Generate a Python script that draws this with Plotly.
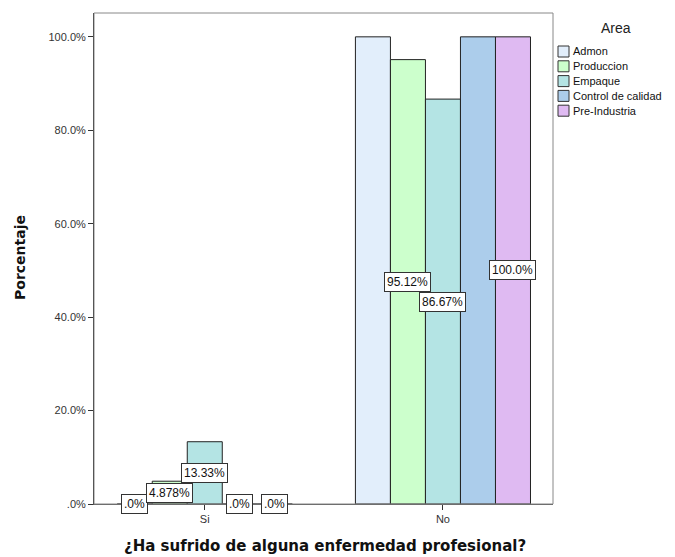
import plotly.graph_objects as go

categories = ["Si", "No"]
series_names = ["Admon", "Produccion", "Empaque", "Control de calidad", "Pre-Industria"]
si_values = [0.0, 4.878, 13.33, 0.0, 0.0]
no_values = [100.0, 95.12, 86.67, 100.0, 100.0]
label_si = [".0%", "4.878%", "13.33%", ".0%", ".0%"]
label_no = [None, "95.12%", "86.67%", None, "100.0%"]
colors = ["#E2EEFB", "#CCFFCC", "#B4E4E4", "#ACCDEB", "#DFBAF2"]
y_ticks = [0, 20, 40, 60, 80, 100]
y_ticktext = [".0%", "20.0%", "40.0%", "60.0%", "80.0%", "100.0%"]
legend_title = "Area"
x_title = "¿Ha sufrido de alguna enfermedad profesional?"
y_title = "Porcentaje"

FONT = "Liberation Sans, Arial, sans-serif"
TFONT = "DejaVu Sans, sans-serif"
OFF = 8  # default page body margin
W, H = 675 - OFF, 557 - OFF
# plot area in screen pixels: x 94..553, y 13..504
L, T = 94 - OFF, 13 - OFF
R, B = W - (553 - OFF), H - (504 - OFF)
PW, PH = W - L - R, H - T - B


def px(x):
    return (x - OFF - L) / PW


def py(y):
    return (H - B - (y - OFF)) / PH


bargap = 0.265
n = len(series_names)
bw = (1 - bargap) / n

fig = go.Figure()
for i, name in enumerate(series_names):
    fig.add_trace(go.Bar(
        x=categories, y=[si_values[i], no_values[i]], name=name, showlegend=False,
        marker=dict(color=colors[i], line=dict(color="#222222", width=1)),
    ))

annotations = []
for ci, (vals, labs) in enumerate([(si_values, label_si), (no_values, label_no)]):
    for i in range(n):
        if labs[i] is None:
            continue
        xpos = ci - (1 - bargap) / 2 + bw * (i + 0.5)
        annotations.append(dict(
            x=xpos, y=vals[i] / 2, xref="x", yref="y", text=labs[i], showarrow=False,
            font=dict(family=FONT, size=12, color="#111111"),
            bgcolor="white", bordercolor="#333333", borderwidth=1, borderpad=2,
        ))

# axis titles
annotations.append(dict(x=px(325), y=py(546), xref="paper", yref="paper", text="<b>%s</b>" % x_title,
                        showarrow=False, xanchor="center", yanchor="middle",
                        font=dict(family=TFONT, size=15, color="#111111")))
annotations.append(dict(x=px(20), y=py(258), xref="paper", yref="paper", text="<b>%s</b>" % y_title,
                        showarrow=False, xanchor="center", yanchor="middle", textangle=-90,
                        font=dict(family=TFONT, size=14, color="#111111")))

# legend (manual)
shapes = [dict(type="rect", xref="paper", yref="paper", x0=0, y0=0, x1=1, y1=1,
               line=dict(color="#888888", width=1), layer="above")]
annotations.append(dict(x=px(616), y=py(28), xref="paper", yref="paper", text=legend_title,
                        showarrow=False, xanchor="center", yanchor="middle",
                        font=dict(family=FONT, size=14, color="#222222")))
for i, name in enumerate(series_names):
    yc = 51.5 + 14.8 * i
    shapes.append(dict(type="rect", xref="paper", yref="paper",
                       x0=px(558), x1=px(569), y0=py(yc + 5.5), y1=py(yc - 5.5),
                       fillcolor=colors[i], line=dict(color="#333333", width=1)))
    annotations.append(dict(x=px(571), y=py(yc), xref="paper", yref="paper", text=name,
                            showarrow=False, xanchor="left", yanchor="middle",
                            font=dict(family=FONT, size=11, color="#111111")))

fig.update_layout(
    width=W, height=H,
    margin=dict(l=L, r=R, t=T, b=B, autoexpand=False),
    paper_bgcolor="white", plot_bgcolor="white",
    barmode="group", bargap=bargap, bargroupgap=0,
    font=dict(family=FONT, size=11, color="#333333"),
    annotations=annotations, shapes=shapes,
    showlegend=False,
    xaxis=dict(
        type="category", range=[-0.465, 1.462],
        showline=True, linecolor="#555555", linewidth=1,
        ticks="outside", ticklen=5, tickcolor="#333333",
        tickfont=dict(family=FONT, size=11, color="#333333"),
        showgrid=False, zeroline=False, automargin=False,
    ),
    yaxis=dict(
        range=[0, 105.1], tickvals=y_ticks, ticktext=y_ticktext,
        showline=True, linecolor="#222222", linewidth=1,
        ticks="outside", ticklen=5, tickcolor="#333333",
        tickfont=dict(family=FONT, size=11, color="#333333"),
        showgrid=False, zeroline=False, automargin=False,
    ),
)

fig.write_html("out.html")
